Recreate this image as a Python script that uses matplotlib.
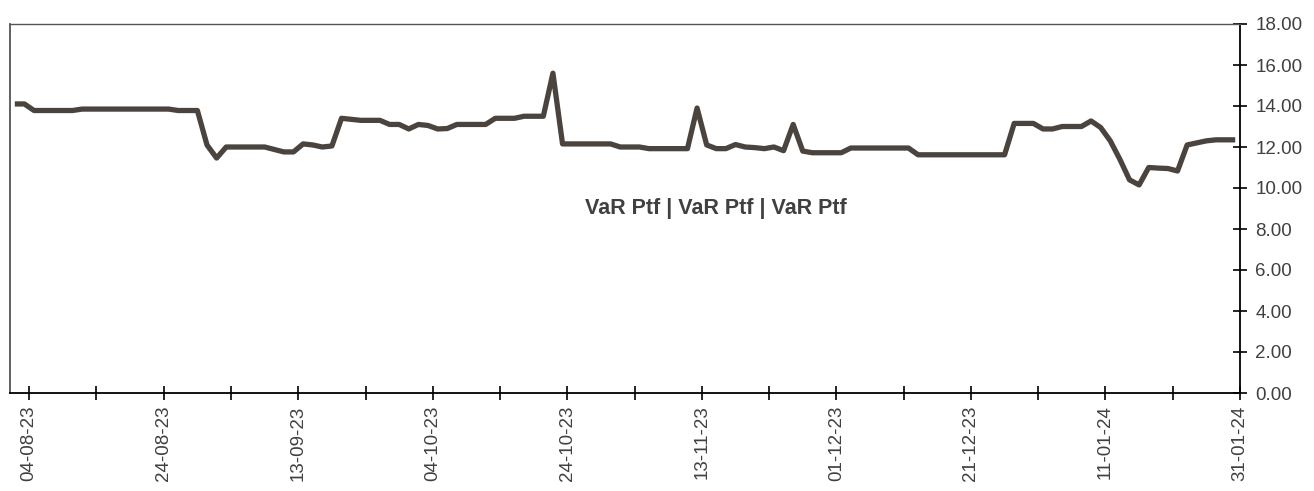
import matplotlib
matplotlib.use("Agg")
import matplotlib.pyplot as plt
import numpy as np

plt.rcParams['font.family'] = ['Liberation Sans', 'DejaVu Sans']

# --- data -------------------------------------------------------------
var_values = [
    14.10, 14.10, 13.78, 13.78, 13.78, 13.78, 13.78, 13.85, 13.85, 13.85,
    13.85, 13.85, 13.85, 13.85, 13.85, 13.85, 13.85, 13.78, 13.78, 13.78,
    12.10, 11.46, 12.00, 12.00, 12.00, 12.00, 12.00, 11.88, 11.76, 11.76,
    12.15, 12.10, 12.00, 12.05, 13.40, 13.35, 13.30, 13.30, 13.30, 13.10,
    13.10, 12.88, 13.10, 13.05, 12.88, 12.90, 13.10, 13.10, 13.10, 13.10,
    13.40, 13.40, 13.40, 13.50, 13.50, 13.50, 15.60, 12.15, 12.15, 12.15,
    12.15, 12.15, 12.15, 12.00, 12.00, 12.00, 11.92, 11.92, 11.92, 11.92,
    11.92, 13.90, 12.10, 11.92, 11.92, 12.12, 12.00, 11.97, 11.92, 12.00,
    11.82, 13.10, 11.80, 11.72, 11.72, 11.72, 11.72, 11.95, 11.95, 11.95,
    11.95, 11.95, 11.95, 11.95, 11.62, 11.62, 11.62, 11.62, 11.62, 11.62,
    11.62, 11.62, 11.62, 11.62, 13.15, 13.15, 13.15, 12.88, 12.88, 13.00,
    13.00, 13.00, 13.27, 12.95, 12.30, 11.40, 10.40, 10.15, 11.00, 10.97,
    10.95, 10.83, 12.10, 12.20, 12.30, 12.35, 12.35, 12.35,
]
date_labels = ["04-08-23", "24-08-23", "13-09-23", "04-10-23", "24-10-23",
               "13-11-23", "01-12-23", "21-12-23", "11-01-24", "31-01-24"]
y_ticks = [0, 2, 4, 6, 8, 10, 12, 14, 16, 18]
title_text = "VaR Ptf | VaR Ptf | VaR Ptf"

# --- figure -------------------------------------------------------------
W, H = 1314, 491
fig = plt.figure(figsize=(W / 100, H / 100), dpi=100)
ax = fig.add_axes([10 / W, 1 - 393 / H, (1240 - 10) / W, (393 - 24) / H])

n = len(var_values)
x = np.arange(n)
ax.plot(x, var_values, color='#4B443E', lw=3.8, solid_joinstyle='round',
        solid_capstyle='butt')

ax.set_xlim(-0.5, n - 0.5)
ax.set_ylim(0, 18)

# category axis: ticks between categories, labels every 14, minor every 7
major_pos = [1.5 + 14 * k for k in range(len(date_labels))]
minor_pos = [p + 7 for p in major_pos[:-1]]
ax.set_xticks(major_pos)
ax.set_xticklabels(date_labels, rotation=90, fontsize=13.5, color='#404040')
ax.set_xticks(minor_pos, minor=True)
ax.tick_params(axis='x', which='both', direction='inout', length=10, width=1.2,
               color='black', pad=4)

ax.yaxis.tick_right()
ax.set_yticks(y_ticks)
ax.set_yticklabels([f"{v:.2f}" for v in y_ticks], fontsize=13.5, color='#404040')
ax.tick_params(axis='y', which='both', direction='inout', length=10, width=1.2,
               color='black', pad=6)

ax.spines['right'].set_color('black')
ax.spines['right'].set_linewidth(1.3)
ax.spines['bottom'].set_color('black')
ax.spines['bottom'].set_linewidth(1.3)
ax.spines['left'].set_color('#555555')
ax.spines['left'].set_linewidth(1.3)
ax.spines['top'].set_color('#555555')
ax.spines['top'].set_linewidth(1.0)

ax.text(0.574, 0.5, title_text, transform=ax.transAxes, ha='center', va='center',
        fontsize=15.5, fontweight='bold', color='#404040')

fig.savefig('out.png', dpi=100)
